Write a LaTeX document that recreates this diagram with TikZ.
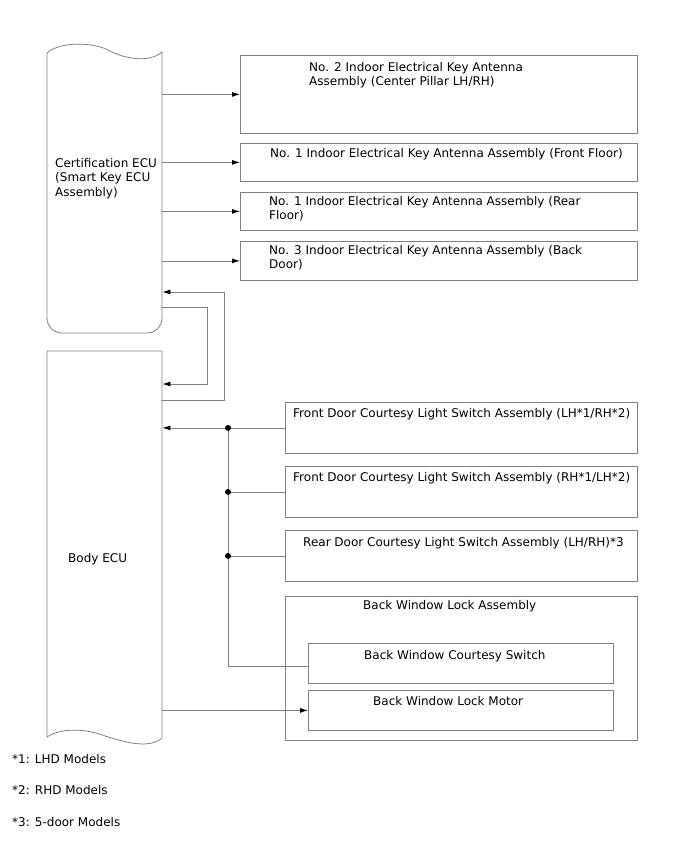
\documentclass[tikz,border=0pt]{standalone}
\usepackage{fontspec}
\setmainfont{DejaVu Sans}
\usetikzlibrary{arrows.meta}
\definecolor{linegray}{HTML}{808080}
\begin{document}
\begin{tikzpicture}[x=1pt,y=-1pt,
  box/.style={draw=linegray, line width=0.8pt, inner sep=0pt, anchor=north west},
  frame/.style={inner sep=0pt, anchor=north west},
  lbl/.style={anchor=base west, inner sep=0pt, align=left, font=\fontsize{12}{14.5}\selectfont},
  wire/.style={draw=linegray, line width=0.8pt},
  arr/.style={wire, -{Latex[length=8pt,width=5pt,color=black]}},
  jdot/.style={circle, fill=black, inner sep=0pt, minimum size=6pt}]
\useasboundingbox (0,0) rectangle (688,852);

% ECU frames (invisible) and their outlines
\node[frame, minimum width=115pt, minimum height=288pt] (cert) at (47,45) {};
\node[frame, minimum width=115pt, minimum height=393pt] (body) at (47,351) {};
\draw[wire] (47,53) .. controls (60,41) and (95,42) .. (110,51)
  .. controls (125,59) and (150,63) .. (162,52)
  [rounded corners=15pt] -- (162,333) -- (47,333) [sharp corners] -- cycle;
\draw[wire] (47,351) -- (162,351) -- (162,738)
  .. controls (148,750) and (122,741) .. (105,736)
  .. controls (85,728) and (60,728) .. (47,737) -- cycle;

% right-hand boxes
\node[box, minimum width=397pt, minimum height=78pt] (b1) at (240,55) {};
\node[box, minimum width=397pt, minimum height=38pt] (b2) at (240,143) {};
\node[box, minimum width=397pt, minimum height=38pt] (b3) at (240,192) {};
\node[box, minimum width=397pt, minimum height=39pt] (b4) at (240,241) {};
\node[box, minimum width=352pt, minimum height=51pt] (b5) at (285,402) {};
\node[box, minimum width=352pt, minimum height=51pt] (b6) at (285,466) {};
\node[box, minimum width=352pt, minimum height=51pt] (b7) at (285,530) {};
\node[box, minimum width=352pt, minimum height=144pt] (b8) at (285,596) {};
\node[box, minimum width=305pt, minimum height=40pt] (bcs) at (308,643) {};
\node[box, minimum width=305pt, minimum height=40pt] (bm) at (308,690) {};

% labels (anchor = baseline of the last line)
\node[lbl] (tcert) at (55,196) {Certification ECU\\(Smart Key ECU\\Assembly)};
\node[lbl] (tbody) at (68,562) {Body ECU};
\node[lbl] (t1) at (309,85.5) {No. 2 Indoor Electrical Key Antenna\\Assembly (Center Pillar LH/RH)};
\node[lbl] (t2) at (270,157) {No. 1 Indoor Electrical Key Antenna Assembly (Front Floor)};
\node[lbl] (t3) at (269,219.5) {No. 1 Indoor Electrical Key Antenna Assembly (Rear\\Floor)};
\node[lbl] (t4) at (269,268.5) {No. 3 Indoor Electrical Key Antenna Assembly (Back\\Door)};
\node[lbl] (t5) at (293,417) {Front Door Courtesy Light Switch Assembly (LH*1/RH*2)};
\node[lbl] (t6) at (293,481) {Front Door Courtesy Light Switch Assembly (RH*1/LH*2)};
\node[lbl] (t7) at (303,546) {Rear Door Courtesy Light Switch Assembly (LH/RH)*3};
\node[lbl] (t8) at (363,609) {Back Window Lock Assembly};
\node[lbl] (tcs) at (364,659) {Back Window Courtesy Switch};
\node[lbl] (tm) at (373,705) {Back Window Lock Motor};
\node[lbl] (f1) at (12,763) {*1: LHD Models};
\node[lbl] (f2) at (12,794) {*2: RHD Models};
\node[lbl] (f3) at (12,826) {*3: 5-door Models};

% antenna connectors
\draw[arr] (cert.east |- b1.west) -- (b1.west);
\draw[arr] (cert.east |- b2.west) -- (b2.west);
\draw[arr] (cert.east |- b3.west) -- (b3.west);
\draw[arr] (cert.east |- b4.west) -- (b4.west);

% loop connectors between ECUs
\coordinate (la) at (224,292);
\coordinate (lb) at (207,307);
\coordinate (lc) at (224,400);
\coordinate (ld) at (207,384);
\draw[arr] (body.east |- lc) -- (lc) -- (la) -- (cert.east |- la);
\draw[arr] (cert.east |- lb) -- (lb) -- (ld) -- (body.east |- ld);

% courtesy switch bus
\coordinate (j1) at (b5.west -| 228,0);
\coordinate (j2) at (b6.west -| 228,0);
\coordinate (j3) at (b7.west -| 228,0);
\coordinate (jc) at ([yshift=-3pt]bcs.west);
\draw[arr] (b5.west) -- (body.east |- b5.west);
\draw[wire] (b6.west) -- (j2);
\draw[wire] (b7.west) -- (j3);
\draw[wire] (j1) -- (j1 |- jc) -- (jc);
\node[jdot] (d1) at (j1) {};
\node[jdot] (d2) at (j2) {};
\node[jdot] (d3) at (j3) {};
\draw[arr] (body.east |- bm.west) -- (bm.west);
\end{tikzpicture}
\end{document}
